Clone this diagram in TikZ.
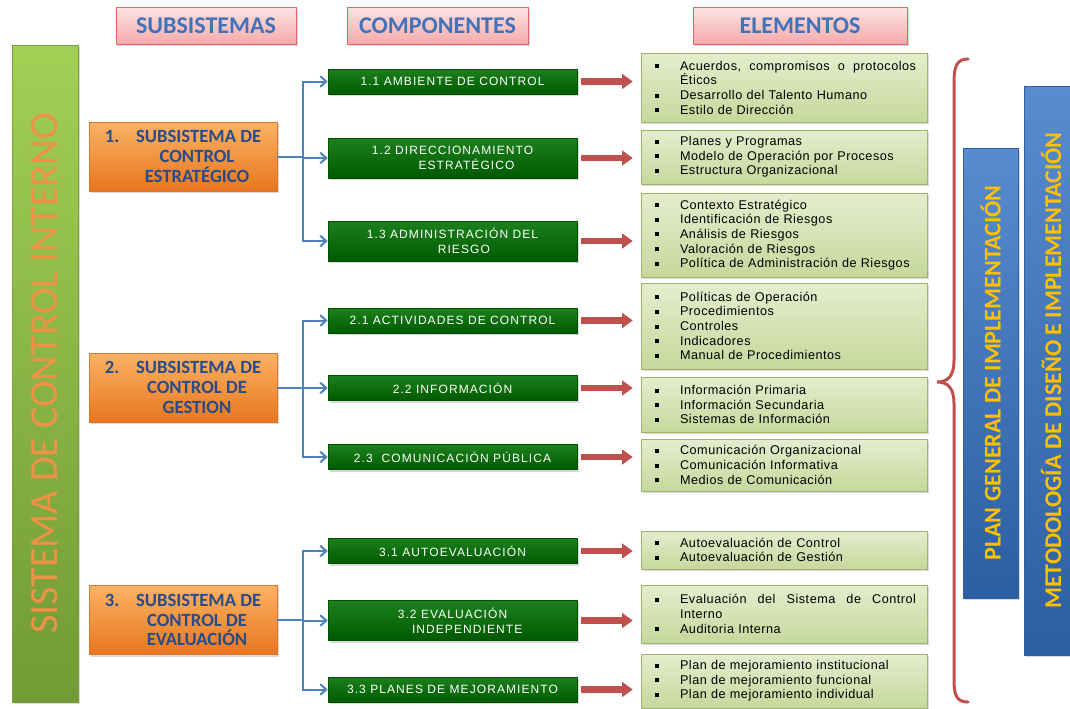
\documentclass[tikz,border=0pt]{standalone}
\usepackage{fontspec}
\setmainfont{Liberation Sans}
\newfontfamily\calib{Carlito}
\newfontfamily\compfont[LetterSpace=9]{Liberation Sans}
\newfontfamily\elemfont[LetterSpace=4]{Liberation Sans}
\usetikzlibrary{arrows.meta,shadows}
\definecolor{pinktop}{RGB}{253,226,226}
\definecolor{pinkbot}{RGB}{245,170,170}
\definecolor{pinkline}{RGB}{226,104,104}
\definecolor{headtext}{RGB}{66,114,184}
\definecolor{bartop}{RGB}{162,207,84}
\definecolor{barbot}{RGB}{114,154,54}
\definecolor{barline}{RGB}{120,160,62}
\definecolor{bartext}{RGB}{238,146,70}
\definecolor{orgtop}{RGB}{251,178,100}
\definecolor{orgbot}{RGB}{232,118,30}
\definecolor{orgline}{RGB}{214,120,48}
\definecolor{orgtext}{RGB}{40,76,138}
\definecolor{comptop}{RGB}{28,128,28}
\definecolor{compbot}{RGB}{0,90,0}
\definecolor{compline}{RGB}{0,80,0}
\definecolor{eletop}{RGB}{228,237,206}
\definecolor{elebot}{RGB}{198,216,156}
\definecolor{eleline}{RGB}{160,180,110}
\definecolor{linkblue}{RGB}{79,129,189}
\definecolor{arrred}{RGB}{192,80,77}
\definecolor{plantop}{RGB}{88,140,206}
\definecolor{planbot}{RGB}{44,94,162}
\definecolor{planline}{RGB}{50,96,156}
\definecolor{plantext}{RGB}{255,192,0}
\newcommand\bul{\makebox[21.4pt][l]{\hspace{2.6pt}\rule[1.4pt]{3pt}{3pt}}}
\newcommand\ind{\hspace*{21.4pt}}

\begin{document}
\begin{tikzpicture}[x=0.75pt,y=-0.75pt,
  shadowed/.style={drop shadow={opacity=.3,shadow xshift=1.5pt,shadow yshift=-1.5pt}},
  header/.style={shadowed,draw=pinkline,top color=pinktop,bottom color=pinkbot,minimum height=27.75pt,text=headtext,font=\calib\bfseries\fontsize{18}{20}\selectfont},
  sysbar/.style={shadowed,draw=barline,top color=bartop,bottom color=barbot,minimum width=49.5pt,minimum height=492.75pt},
  subbox/.style={shadowed,draw=orgline,top color=orgtop,bottom color=orgbot,minimum width=141pt,minimum height=51.75pt,align=center,text=orgtext,font=\calib\bfseries\fontsize{14}{14.8}\selectfont},
  compbox/.style={shadowed,draw=compline,top color=comptop,bottom color=compbot,minimum width=186.75pt,minimum height=18.75pt,inner sep=1pt,align=center,text=white,font=\compfont\fontsize{9}{11.25}\selectfont},
  elembox/.style={shadowed,draw=eleline,top color=eletop,bottom color=elebot,text width=198.75pt,inner xsep=7.875pt,inner ysep=1pt,align=left,font=\elemfont\fontsize{9.5}{11}\selectfont},
  planbar/.style={shadowed,draw=planline,top color=plantop,bottom color=planbot},
  vtext/.style={rotate=90,inner sep=0pt},
  link/.style={draw=linkblue,line width=1.5pt,>={Straight Barb[length=4.5pt,width=8pt]}},
  fatarrow/.style={draw=arrred,line width=5pt,-{Triangle[length=8pt,width=11pt]},shorten <=3pt,shorten >=6pt}]
\useasboundingbox (0,0) rectangle (1070,708);
% column headers
\node[header,minimum width=135pt] (hsub) at (206,25.5) {SUBSISTEMAS};
\node[header,minimum width=135.75pt] (hcomp) at (437.5,25.5) {COMPONENTES};
\node[header,minimum width=160.5pt] (helem) at (800,25.5) {ELEMENTOS};
% left bar
\node[sysbar] (sci) at (45,373.5) {};
\node[vtext,text=bartext,font=\calib\fontsize{30}{30}\selectfont] (scit) at (sci.center) {SISTEMA DE CONTROL INTERNO};
% subsystems
\node[subbox] (s1) at (183,156.5) {1.\hspace{0.9em}SUBSISTEMA DE\\\hspace*{21pt}CONTROL\\\hspace*{21pt}ESTRATÉGICO};
\node[subbox] (s2) at (183,387.5) {2.\hspace{0.9em}SUBSISTEMA DE\\\hspace*{21pt}CONTROL DE\\\hspace*{21pt}GESTION};
\node[subbox] (s3) at (183,620) {3.\hspace{0.9em}SUBSISTEMA DE\\\hspace*{21pt}CONTROL DE\\\hspace*{21pt}EVALUACIÓN};
% components
\node[compbox] (c11) at (452.5,81.5) {1.1 AMBIENTE DE CONTROL};
\node[compbox,minimum height=30pt] (c12) at (452.5,158) {1.2 DIRECCIONAMIENTO\\\hspace*{21pt}ESTRATÉGICO};
\node[compbox,minimum height=30pt] (c13) at (452.5,241) {1.3 ADMINISTRACIÓN DEL\\\hspace*{17pt}RIESGO};
\node[compbox] (c21) at (452.5,320.5) {2.1 ACTIVIDADES DE CONTROL};
\node[compbox] (c22) at (452.5,388) {2.2 INFORMACIÓN};
\node[compbox] (c23) at (452.5,457) {2.3\ \ COMUNICACIÓN PÚBLICA};
\node[compbox] (c31) at (452.5,551) {3.1 AUTOEVALUACIÓN};
\node[compbox,minimum height=30pt] (c32) at (452.5,620.5) {3.2 EVALUACIÓN\\\hspace*{22pt}INDEPENDIENTE};
\node[compbox] (c33) at (452.5,689.5) {3.3 PLANES DE MEJORAMIENTO};
% elements
\node[elembox,minimum height=51.75pt] (e11) at (784,87.5) {\bul\makebox[177pt][l]{Acuerdos,\hfill compromisos\hfill o\hfill protocolos}\\\ind Éticos\\\bul Desarrollo del Talento Humano\\\bul Estilo de Dirección};
\node[elembox,minimum height=40.5pt] (e12) at (784,157) {\bul Planes y Programas\\\bul Modelo de Operación por Procesos\\\bul Estructura Organizacional};
\node[elembox,minimum height=63pt] (e13) at (784,235) {\bul Contexto Estratégico\\\bul Identificación de Riesgos\\\bul Análisis de Riesgos\\\bul Valoración de Riesgos\\\bul Política de Administración de Riesgos};
\node[elembox,minimum height=64.5pt] (e21) at (784,326) {\bul Políticas de Operación\\\bul Procedimientos\\\bul Controles\\\bul Indicadores\\\bul Manual de Procedimientos};
\node[elembox,minimum height=41.25pt] (e22) at (784,404.5) {\bul Información Primaria\\\bul Información Secundaria\\\bul Sistemas de Información};
\node[elembox,minimum height=39pt] (e23) at (784,465) {\bul Comunicación Organizacional\\\bul Comunicación Informativa\\\bul Medios de Comunicación};
\node[elembox,minimum height=28.5pt] (e31) at (784,550) {\bul Autoevaluación de Control\\\bul Autoevaluación de Gestión};
\node[elembox,minimum height=43.5pt] (e32) at (784,614) {\bul\makebox[177pt][l]{Evaluación\hfill del\hfill Sistema\hfill de\hfill Control}\\\ind Interno\\\bul Auditoria Interna};
\node[elembox,minimum height=40.5pt] (e33) at (784,681) {\bul Plan de mejoramiento institucional\\\bul Plan de mejoramiento funcional\\\bul Plan de mejoramiento individual};
% right bars
\node[planbar,minimum width=41.25pt,minimum height=337.5pt] (pgi) at (990.5,373) {};
\node[vtext,text=plantext,font=\calib\bfseries\fontsize{18}{18}\selectfont] (pgit) at (pgi.center) {PLAN GENERAL DE IMPLEMENTACIÓN};
\node[planbar,minimum width=40.5pt,minimum height=426.75pt] (mdi) at (1051,370.5) {};
\node[vtext,text=plantext,font=\calib\bfseries\fontsize{18}{18}\selectfont] (mdit) at (mdi.center) {METODOLOGÍA DE DISEÑO E IMPLEMENTACIÓN};
% brace
\draw[arrred,line width=2.25pt,line cap=round] (968,59) .. controls (957,59) and (954,66) .. (954,82) -- (954,360) .. controls (954,376) and (948,382) .. (937,382) .. controls (948,382) and (954,388) .. (954,404) -- (954,680) .. controls (954,696) and (957,702) .. (968,702);
% links
\foreach \g/\a/\b/\c in {1/11/12/13,2/21/22/23,3/31/32/33}{
  \coordinate (j\g) at (s\g.east -| 303,0);
  \draw[link] (s\g.east) -- (j\g);
  \foreach \k in {\a,\b,\c}
    \draw[link,->] (j\g) |- (c\k.west);
}
\foreach \n in {11,12,13,21,22,23,31,32,33}
  \draw[fatarrow] (c\n.east) -- (c\n.east -| e\n.west);
\end{tikzpicture}
\end{document}
